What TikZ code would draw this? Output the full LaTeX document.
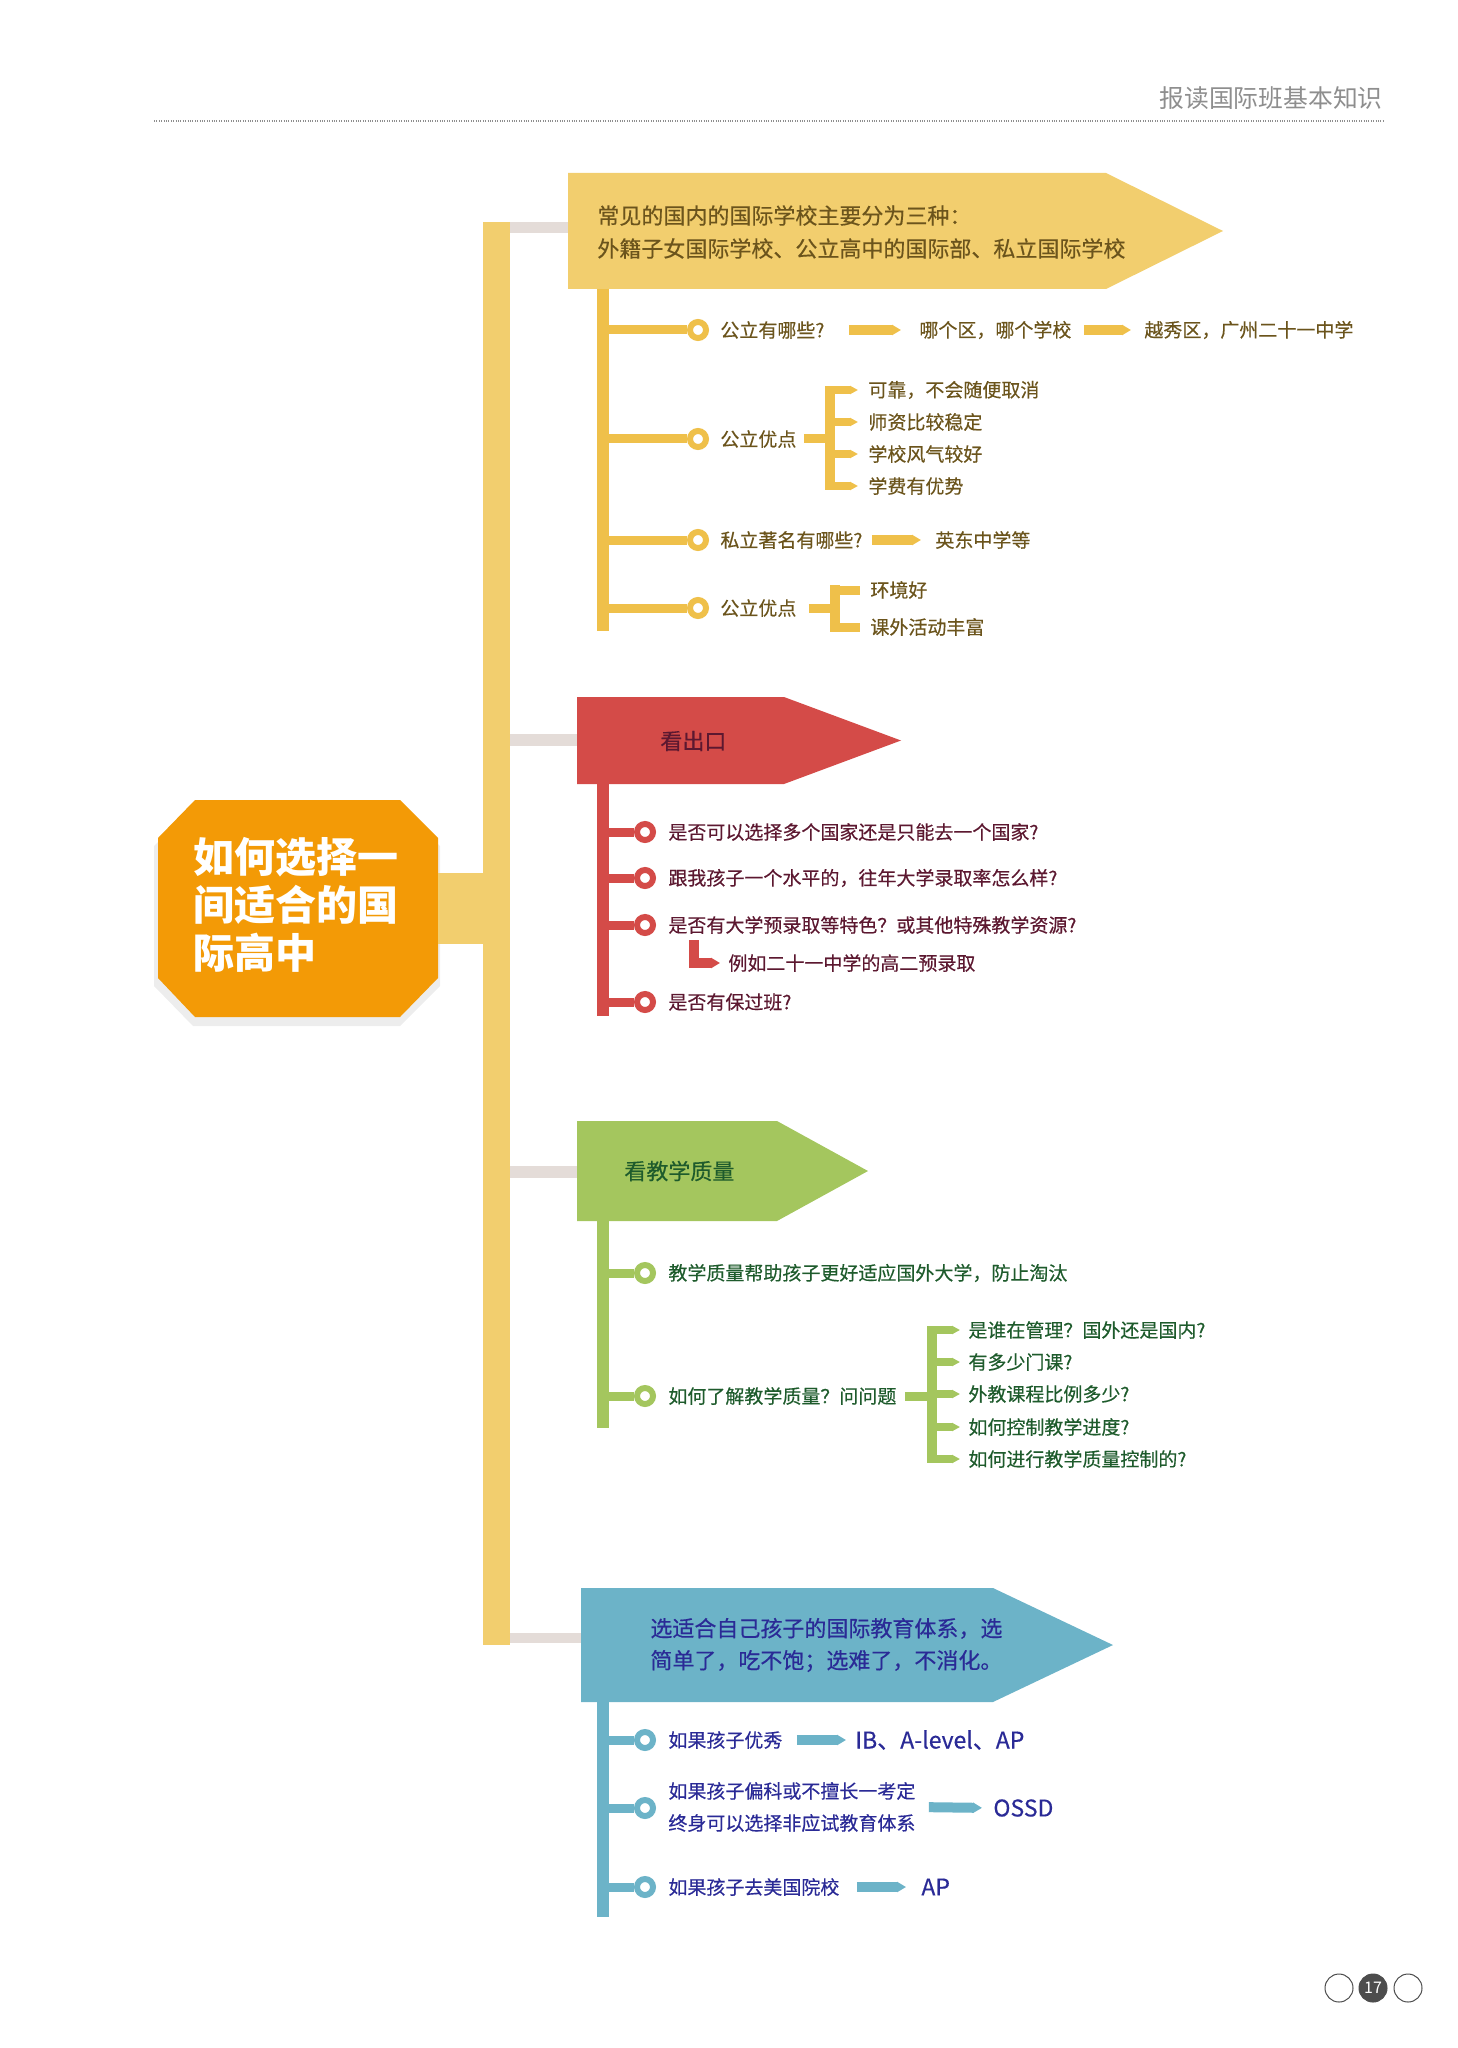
\documentclass[tikz,border=0pt]{standalone}
\usepackage{fontspec}
\setmainfont{Noto Sans CJK SC}
\newfontfamily\medfont[FakeBold=0.4]{Noto Sans CJK SC}
\usetikzlibrary{arrows.meta}

\definecolor{trunkyel}{HTML}{F2CE6E}
\definecolor{yelline}{HTML}{EFC04A}
\definecolor{yeltext}{HTML}{6B541C}
\definecolor{linkgray}{HTML}{E4DCD8}
\definecolor{rootorange}{HTML}{F39A06}
\definecolor{redmain}{HTML}{D44B48}
\definecolor{redtext}{HTML}{5C1830}
\definecolor{greenmain}{HTML}{A4C65E}
\definecolor{greentext}{HTML}{1E5B2C}
\definecolor{bluemain}{HTML}{6CB3C8}
\definecolor{bluetext}{HTML}{2A2A96}
\definecolor{headgray}{HTML}{8E8E8E}
\definecolor{pagegray}{HTML}{4D4D4D}

\tikzset{
    ring/.style={circle, draw=#1, fill=white, line width=3pt, minimum size=8pt, inner sep=0pt},
    bar/.style={draw=#1, line width=4.5pt},
    arr/.style={draw=#1, line width=5pt, -{Triangle[length=4.5pt,width=5pt]}},
    stub/.style={draw=#1, line width=4pt, -{Triangle[length=4pt,width=4pt]}},
    itemtxt/.style={anchor=west, inner sep=0pt, align=left, font=\medfont\fontsize{9.5}{16}\selectfont},
    latintxt/.style={anchor=west, inner sep=0pt, font=\medfont\fontsize{11.5}{16}\selectfont},
    bantxt/.style={anchor=west, inner sep=0pt, align=left, font=\medfont\fontsize{11}{16.5}\selectfont},
    roottxt/.style={anchor=west, inner sep=0pt, align=left, text=white, font=\fontsize{20.5}{24}\selectfont\bfseries},
    pgcirc/.style={circle, draw=pagegray, line width=0.5pt, minimum size=14pt, inner sep=0pt},
}

\begin{document}
\begin{tikzpicture}[x=0.5pt,y=-0.5pt]%% start picture
            \useasboundingbox (0,0) rectangle (1457,2048);

            %% header
                \node[anchor=east, inner sep=0pt, text=headgray, font=\fontsize{12.4}{14}\selectfont] (title) at (1383,98) {报读国际班基本知识};
                \draw[headgray, line width=0.6pt, dash pattern=on 0.4pt off 0.8pt] (154,121) to (1383,121);

            %% trunk and root
                \draw[trunkyel, line width=13.5pt] (496.5,222) to (496.5,1645);
                \fill[black, opacity=0.07] (193,808) -- (400,808) -- (440,846) -- (440,986) -- (400,1026) -- (193,1026) -- (154,986) -- (154,846) -- cycle;
                \fill[rootorange] (195,800) -- (400,800) -- (438,838) -- (438,978) -- (400,1017) -- (195,1017) -- (158,978) -- (158,838) -- cycle;
                \node[roottxt] (root) at (193,905) {如何选择一\\间适合的国\\际高中};
                \coordinate (rootR) at (438,908.5);
                \coordinate (trunkL) at (483,908.5);
                \draw[trunkyel, line width=35.5pt] (rootR) to (trunkL);

            %% yellow
                \fill[trunkyel] (568,173) -- (1106,173) -- (1223,231) -- (1106,289) -- (568,289) -- cycle;
                \node[bantxt, text=yeltext] (ybanner) at (597,232) {常见的国内的国际学校主要分为三种：\\外籍子女国际学校、公立高中的国际部、私立国际学校};
                \coordinate (ytrunk) at (510,227.5);
                \coordinate (ylink) at (568,227.5);
                \draw[linkgray, line width=5.5pt] (ytrunk) to (ylink);
                \fill[yelline] (597,289) rectangle (609,631);

                    \coordinate (ys1) at (609,330);
                    \node[ring=yelline] (yr1) at (698,330) {};
                    \draw[bar=yelline] (ys1) to (yr1);
                    \node[itemtxt, text=yeltext] (yq1) at (720,330) {公立有哪些?};
                    \node[itemtxt, text=yeltext] (ya1) at (919,330) {哪个区，哪个学校};
                    \node[itemtxt, text=yeltext] (yb1) at (1144,330) {越秀区，广州二十一中学};
                    \draw[arr=yelline, shorten <=12pt, shorten >=9pt] (yq1.east) to (ya1.west);
                    \draw[arr=yelline, shorten <=6pt, shorten >=6.5pt] (ya1.east) to (yb1.west);

                    \coordinate (ys2) at (609,439);
                    \node[ring=yelline] (yr2) at (698,439) {};
                    \draw[bar=yelline] (ys2) to (yr2);
                    \node[itemtxt, text=yeltext] (yq2) at (720,439) {公立优点};
                    \coordinate (yk2) at (825,439);
                    \draw[bar=yelline, shorten <=3.5pt] (yq2.east) to (yk2);
                    \fill[yelline] (825,386) rectangle (835,490);
                        \node[itemtxt, text=yeltext] (yt21) at (868,390) {可靠，不会随便取消};
                        \node[itemtxt, text=yeltext] (yt22) at (868,422) {师资比较稳定};
                        \node[itemtxt, text=yeltext] (yt23) at (868,454) {学校风气较好};
                        \node[itemtxt, text=yeltext] (yt24) at (868,486) {学费有优势};
                        \draw[stub=yelline, shorten >=5pt] (yt21.west -| yk2) to (yt21.west);
                        \draw[stub=yelline, shorten >=5pt] (yt22.west -| yk2) to (yt22.west);
                        \draw[stub=yelline, shorten >=5pt] (yt23.west -| yk2) to (yt23.west);
                        \draw[stub=yelline, shorten >=5pt] (yt24.west -| yk2) to (yt24.west);

                    \coordinate (ys3) at (609,540);
                    \node[ring=yelline] (yr3) at (698,540) {};
                    \draw[bar=yelline] (ys3) to (yr3);
                    \node[itemtxt, text=yeltext] (yq3) at (720,540) {私立著名有哪些?};
                    \node[itemtxt, text=yeltext] (ya3) at (935,540) {英东中学等};
                    \draw[arr=yelline, shorten <=4.5pt, shorten >=7pt] (yq3.east) to (ya3.west);

                    \coordinate (ys4) at (609,608);
                    \node[ring=yelline] (yr4) at (698,608) {};
                    \draw[bar=yelline] (ys4) to (yr4);
                    \node[itemtxt, text=yeltext] (yq4) at (720,608) {公立优点};
                    \coordinate (yk4) at (830,608);
                    \draw[bar=yelline, shorten <=6pt] (yq4.east) to (yk4);
                    \fill[yelline] (830,585) rectangle (840,631);
                        \node[itemtxt, text=yeltext] (yt41) at (870,590) {环境好};
                        \node[itemtxt, text=yeltext] (yt42) at (870,627) {课外活动丰富};
                        \draw[bar=yelline, shorten >=5pt] (yt41.west -| yk4) to (yt41.west);
                        \draw[bar=yelline, shorten >=5pt] (yt42.west -| yk4) to (yt42.west);

            %% red
                \fill[redmain] (577,697) -- (784,697) -- (901,740.5) -- (784,784) -- (577,784) -- cycle;
                \node[bantxt, text=redtext] (rbanner) at (660,741) {看出口};
                \coordinate (rtrunk) at (510,740);
                \coordinate (rlink) at (577,740);
                \draw[linkgray, line width=6pt] (rtrunk) to (rlink);
                \fill[redmain] (597,784) rectangle (609,1016);

                    \coordinate (rs1) at (609,832);
                    \node[ring=redmain] (rr1) at (645,832) {};
                    \draw[bar=redmain] (rs1) to (rr1);
                    \node[itemtxt, text=redtext] (rq1) at (668,832) {是否可以选择多个国家还是只能去一个国家?};

                    \coordinate (rs2) at (609,878);
                    \node[ring=redmain] (rr2) at (645,878) {};
                    \draw[bar=redmain] (rs2) to (rr2);
                    \node[itemtxt, text=redtext] (rq2) at (668,878) {跟我孩子一个水平的，往年大学录取率怎么样?};

                    \coordinate (rs3) at (609,925);
                    \node[ring=redmain] (rr3) at (645,925) {};
                    \draw[bar=redmain] (rs3) to (rr3);
                    \node[itemtxt, text=redtext] (rq3) at (668,925) {是否有大学预录取等特色？或其他特殊教学资源?};
                        \coordinate (rl3) at (694,940);
                        \node[itemtxt, text=redtext] (rex3) at (728,963) {例如二十一中学的高二预录取};
                        \draw[arr=redmain, shorten >=4pt] (rl3) |- (rex3.west);

                    \coordinate (rs4) at (609,1002);
                    \node[ring=redmain] (rr4) at (645,1002) {};
                    \draw[bar=redmain] (rs4) to (rr4);
                    \node[itemtxt, text=redtext] (rq4) at (668,1002) {是否有保过班?};

            %% green
                \fill[greenmain] (577,1121) -- (777,1121) -- (868,1171) -- (777,1221) -- (577,1221) -- cycle;
                \node[bantxt, text=greentext] (gbanner) at (624,1171) {看教学质量};
                \coordinate (gtrunk) at (510,1172);
                \coordinate (glink) at (577,1172);
                \draw[linkgray, line width=6pt] (gtrunk) to (glink);
                \fill[greenmain] (597,1221) rectangle (609,1428);

                    \coordinate (gs1) at (609,1273);
                    \node[ring=greenmain] (gr1) at (645,1273) {};
                    \draw[bar=greenmain] (gs1) to (gr1);
                    \node[itemtxt, text=greentext] (gq1) at (668,1273) {教学质量帮助孩子更好适应国外大学，防止淘汰};

                    \coordinate (gs2) at (609,1396);
                    \node[ring=greenmain] (gr2) at (645,1396) {};
                    \draw[bar=greenmain] (gs2) to (gr2);
                    \node[itemtxt, text=greentext] (gq2) at (668,1396) {如何了解教学质量？问问题};
                    \coordinate (gk2) at (927,1396);
                    \draw[bar=greenmain, shorten <=4pt] (gq2.east) to (gk2);
                    \fill[greenmain] (927,1326) rectangle (937,1463);
                        \node[itemtxt, text=greentext] (gt21) at (968,1330) {是谁在管理？国外还是国内?};
                        \node[itemtxt, text=greentext] (gt22) at (968,1362) {有多少门课?};
                        \node[itemtxt, text=greentext] (gt23) at (968,1394) {外教课程比例多少?};
                        \node[itemtxt, text=greentext] (gt24) at (968,1427) {如何控制教学进度?};
                        \node[itemtxt, text=greentext] (gt25) at (968,1459) {如何进行教学质量控制的?};
                        \draw[stub=greenmain, shorten >=4pt] (gt21.west -| gk2) to (gt21.west);
                        \draw[stub=greenmain, shorten >=4pt] (gt22.west -| gk2) to (gt22.west);
                        \draw[stub=greenmain, shorten >=4pt] (gt23.west -| gk2) to (gt23.west);
                        \draw[stub=greenmain, shorten >=4pt] (gt24.west -| gk2) to (gt24.west);
                        \draw[stub=greenmain, shorten >=4pt] (gt25.west -| gk2) to (gt25.west);

            %% blue
                \fill[bluemain] (581,1588) -- (993,1588) -- (1113,1645) -- (993,1702) -- (581,1702) -- cycle;
                \node[bantxt, text=bluetext, font=\medfont\fontsize{11}{16}\selectfont] (bbanner) at (650,1645) {选适合自己孩子的国际教育体系，选\\简单了，吃不饱；选难了，不消化。};
                \coordinate (btrunk) at (510,1638);
                \coordinate (blink) at (581,1638);
                \draw[linkgray, line width=5pt] (btrunk) to (blink);
                \fill[bluemain] (597,1702) rectangle (609,1917);

                    \coordinate (bs1) at (609,1740);
                    \node[ring=bluemain] (br1) at (645,1740) {};
                    \draw[bar=bluemain] (bs1) to (br1);
                    \node[itemtxt, text=bluetext] (bq1) at (668,1740) {如果孩子优秀};
                    \node[latintxt, text=bluetext] (ba1) at (855,1740) {IB、A-level、AP};
                    \draw[arr=bluemain, shorten <=7pt, shorten >=4.5pt] (bq1.east) to (ba1.west);

                    \coordinate (bs2) at (609,1808);
                    \node[ring=bluemain] (br2) at (645,1808) {};
                    \draw[bar=bluemain] (bs2) to (br2);
                    \node[itemtxt, text=bluetext] (bq2) at (668,1807) {如果孩子偏科或不擅长一考定\\终身可以选择非应试教育体系};
                    \node[latintxt, text=bluetext] (ba2) at (993,1808) {OSSD};
                    \draw[arr=bluemain, shorten <=6.5pt, shorten >=5.5pt] (bq2.east) to (ba2.west);

                    \coordinate (bs3) at (609,1887);
                    \node[ring=bluemain] (br3) at (645,1887) {};
                    \draw[bar=bluemain] (bs3) to (br3);
                    \node[itemtxt, text=bluetext] (bq3) at (668,1887) {如果孩子去美国院校};
                    \node[latintxt, text=bluetext] (ba3) at (921,1887) {AP};
                    \draw[arr=bluemain, shorten <=8.5pt, shorten >=7.5pt] (bq3.east) to (ba3.west);

            %% page number
                \node[pgcirc] (pg1) at (1339,1988) {};
                \node[pgcirc, fill=pagegray, text=white, font=\fontsize{8}{8}\selectfont] (pg2) at (1373,1988) {17};
                \node[pgcirc] (pg3) at (1408,1988) {};

\end{tikzpicture}
\end{document}
